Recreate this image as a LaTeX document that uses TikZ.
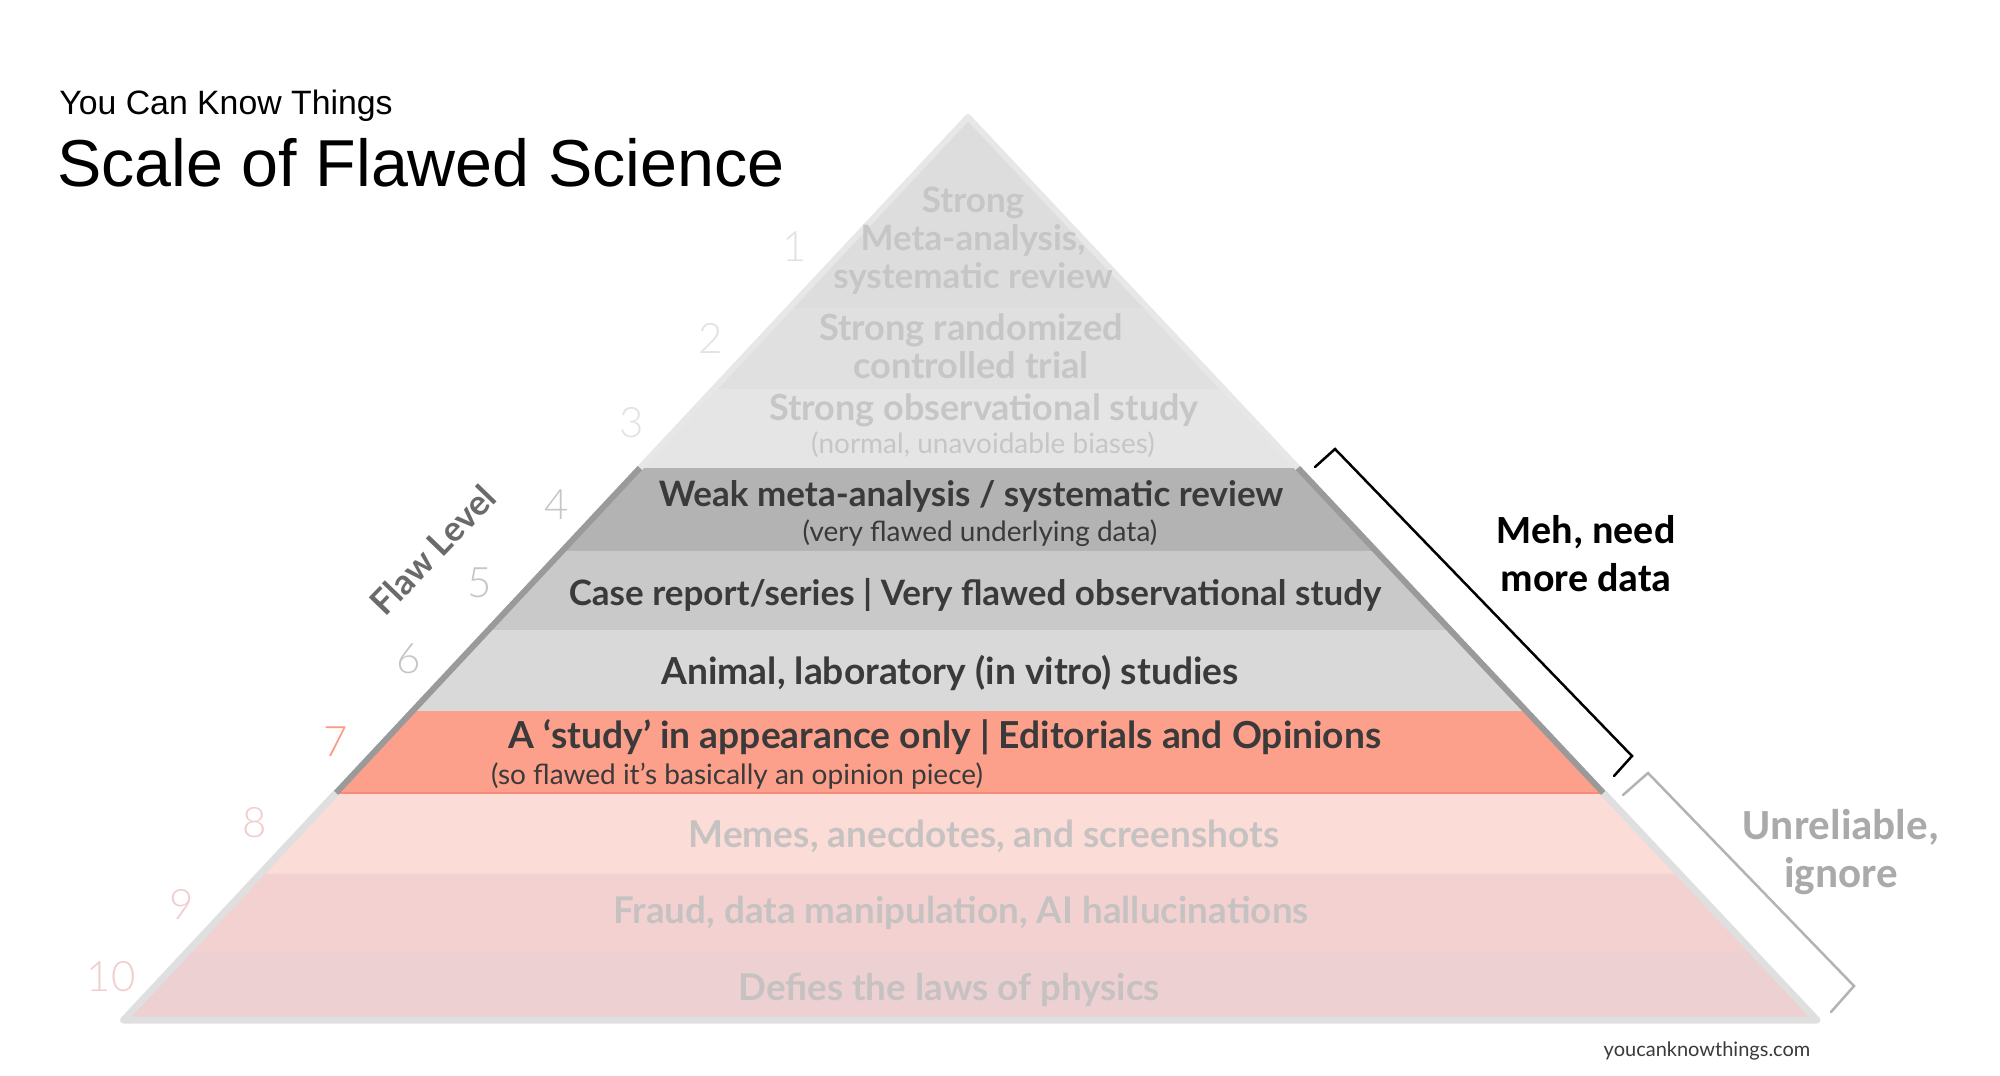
\documentclass[tikz,border=0pt]{standalone}
\usepackage{fontspec}
\setmainfont{Lato}
\newfontfamily\titlefont{Liberation Sans}
\newfontfamily\calfont{Carlito}
\newfontfamily\lightfont{Lato Light}
\usetikzlibrary{calc}
\definecolor{bA}{HTML}{DDDDDD}
\definecolor{bB}{HTML}{E0E0E0}
\definecolor{bC}{HTML}{E5E5E5}
\definecolor{bD}{HTML}{B3B3B3}
\definecolor{bE}{HTML}{C9C9C9}
\definecolor{bF}{HTML}{D9D9D9}
\definecolor{bG}{HTML}{FDA08B}
\definecolor{bH}{HTML}{FBDCD7}
\definecolor{bI}{HTML}{F4D1D1}
\definecolor{bJ}{HTML}{ECD0D2}
\definecolor{txtTop}{HTML}{C6C6C6}
\definecolor{txtDark}{HTML}{3A3A3A}
\definecolor{txtLow}{HTML}{C6C2C2}
\definecolor{numTop}{HTML}{E2E2E2}
\definecolor{numMid}{HTML}{C6C6C6}
\definecolor{numRed}{HTML}{FB9A85}
\definecolor{numLow}{HTML}{F2CDCD}
\definecolor{edgeTop}{HTML}{E7E7E7}
\definecolor{edgeMid}{HTML}{9A9A9A}
\definecolor{edgeLow}{HTML}{DFDFDF}
\definecolor{salmonLine}{HTML}{F58B78}
\definecolor{grayBracket}{HTML}{B3B3B3}
\definecolor{grayLabel}{HTML}{AAAAAA}
\definecolor{flawGray}{HTML}{6A6A6A}
\tikzset{
  lbl/.style={inner sep=0pt, anchor=center},
  mainbold/.style={lbl, font=\bfseries\fontsize{#1}{19}\selectfont, align=center},
  mainbold/.default=17.5,
  subtxt/.style={lbl, font=\fontsize{14}{16}\selectfont},
  numtxt/.style={lbl, font=\lightfont\fontsize{21}{24}\selectfont},
  sidelbl/.style={lbl, font=\calfont\bfseries\fontsize{#1}{24}\selectfont, align=center},
  sidelbl/.default=20,
  brk/.style={line width=1.25pt, line cap=round, line join=miter},
  edgeline/.style={line width=3pt, line join=round},
}
\begin{document}
\begin{tikzpicture}[x=0.5pt,y=-0.5pt]
\useasboundingbox (0,0) rectangle (2000,1075);
\fill[white] (0,0) rectangle (2000,1075);
% pyramid geometry
\coordinate (A) at (968,117);
\coordinate (L0) at (968,117);
\coordinate (R0) at (968,117);
\coordinate (L10) at (123.7,1020);
\coordinate (R10) at (1816.8,1020);
\foreach \i/\yy in {1/308,2/389,3/468,4/551,5/630,6/711,7/793,8/874,9/952}{
  \coordinate (L\i) at ($(A)!{(\yy-117)/903}!(L10)$);
  \coordinate (R\i) at ($(A)!{(\yy-117)/903}!(R10)$);
}
% bands
\fill[bA] (A) -- (R1) -- (L1) -- cycle;
\fill[bB] (L1) -- (R1) -- (R2) -- (L2) -- cycle;
\fill[bC] (L2) -- (R2) -- (R3) -- (L3) -- cycle;
\fill[bD] (L3) -- (R3) -- (R4) -- (L4) -- cycle;
\fill[bE] (L4) -- (R4) -- (R5) -- (L5) -- cycle;
\fill[bF] (L5) -- (R5) -- (R6) -- (L6) -- cycle;
\fill[bG] (L6) -- (R6) -- (R7) -- (L7) -- cycle;
\fill[bH] (L7) -- (R7) -- (R8) -- (L8) -- cycle;
\fill[bI] (L8) -- (R8) -- (R9) -- (L9) -- cycle;
\fill[bJ] (L9) -- (R9) -- (R10) -- (L10) -- cycle;
\draw[salmonLine, line width=1pt] (L7) -- (R7);
% edges
\draw[edgeline, edgeTop] (L3) -- (A) -- (R3);
\draw[edgeline, edgeMid] (L3) -- (L7);
\draw[edgeline, edgeMid] (R3) -- (R7);
\draw[edgeline, edgeLow, line width=3.5pt] (L7) -- (L10) -- (R10) -- (R7);
% band texts
\node[mainbold, text=txtTop] (t1) at (973,241) {Strong\\Meta-analysis,\\systematic review};
\node[mainbold=18.1, text=txtTop] (t2) at (971,346) {Strong randomized\\controlled trial};
\node[mainbold=18, text=txtTop] (t3) at (984,410) {Strong observational study};
\node[subtxt, text=txtTop] (s3) at (983,445) {(normal, unavoidable biases)};
\node[mainbold, text=txtDark] (t4) at (971,496) {Weak meta-analysis / systematic review};
\node[subtxt, text=txtDark] (s4) at (980,533) {(very flawed underlying data)};
\node[mainbold, text=txtDark] (t5) at (975,595) {Case report/series | Very flawed observational study};
\node[mainbold=18.6, text=txtDark] (t6) at (950,673) {Animal, laboratory (in vitro) studies};
\node[mainbold=18.6, text=txtDark] (t7) at (945,737) {A ‘study’ in appearance only | Editorials and Opinions};
\node[subtxt, text=txtDark] (s7) at (737,776) {(so flawed it’s basically an opinion piece)};
\node[mainbold=18.5, text=txtLow] (t8) at (984,836) {Memes, anecdotes, and screenshots};
\node[mainbold=18.4, text=txtLow] (t9) at (961,913) {Fraud, data manipulation, AI hallucinations};
\node[mainbold=18.4, text=txtLow] (t10) at (949,990) {Defies the laws of physics};
% numbers
\node[numtxt, text=numTop] (n1) at (795,247) {1};
\node[numtxt, text=numTop] (n2) at (711,338) {2};
\node[numtxt, text=numTop] (n3) at (632,423) {3};
\node[numtxt, text=numMid] (n4) at (557,505) {4};
\node[numtxt, text=numMid] (n5) at (480,583) {5};
\node[numtxt, text=numMid] (n6) at (409,659) {6};
\node[numtxt, text=numRed] (n7) at (336,742) {7};
\node[numtxt, text=numLow] (n8) at (255,823) {8};
\node[numtxt, text=numLow] (n9) at (182,904) {9};
\node[numtxt, text=numLow] (n10) at (111,977) {10};
\node[lbl, font=\bfseries\fontsize{17.5}{20}\selectfont, text=flawGray, rotate=46] (flaw) at (433,550) {Flaw Level};
% brackets
\coordinate (m1) at (1315,467);
\coordinate (m2) at (1335,449);
\coordinate (m3) at (1632,756);
\coordinate (m4) at (1614,776);
\draw[brk, black] (m1) -- (m2) -- (m3) -- (m4);
\coordinate (g1) at (1623,795);
\coordinate (g2) at (1648,773);
\coordinate (g3) at (1854,986);
\coordinate (g4) at (1831,1012);
\draw[brk, grayBracket] (g1) -- (g2) -- (g3) -- (g4);
\node[sidelbl, text=black] (meh) at (1586,554) {Meh, need\\more data};
\node[sidelbl=21.5, text=grayLabel] (unrel) at (1841,852) {Unreliable,\\ignore};
% titles
\node[inner sep=0pt, anchor=base west, font=\titlefont\fontsize{16.9}{20}\selectfont] (sub) at (59,115) {You Can Know Things};
\node[inner sep=0pt, anchor=base west, font=\titlefont\fontsize{33.2}{38}\selectfont] (title) at (57,187) {Scale of Flawed Science};
\node[lbl, font=\fontsize{10}{12}\selectfont, text=txtDark] (url) at (1707,1051) {youcanknowthings.com};
\end{tikzpicture}
\end{document}
